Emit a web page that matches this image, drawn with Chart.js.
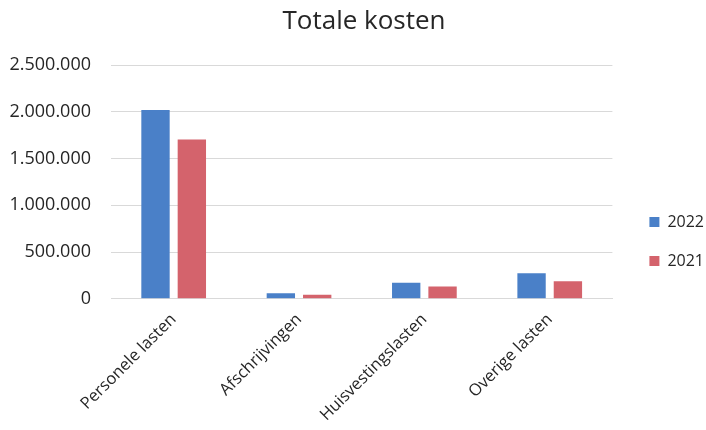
<!DOCTYPE html>
<html>
<head>
<meta charset="utf-8">
<script src="https://cdn.jsdelivr.net/npm/chart.js@4.4.1/dist/chart.umd.min.js"></script>
<style>
  html, body { margin: 0; padding: 0; background: #fff; }
  #wrap { width: 706px; height: 430px; }
</style>
</head>
<body>
<div id="wrap"><canvas id="kostenChart" width="706" height="430"></canvas></div>
<script>
// data
var categories = ['Personele lasten', 'Afschrijvingen', 'Huisvestingslasten', 'Overige lasten'];
var kosten2022 = [2020000, 58000, 172000, 272000];
var kosten2021 = [1705000, 42000, 132000, 188000];
var yTicks = [0, 500000, 1000000, 1500000, 2000000, 2500000];

function formatNl(v) {
  return String(v).replace(/\B(?=(\d{3})+(?!\d))/g, '.');
}

var fontFamily = "'Open Sans', 'Noto Sans', sans-serif";

// nudge title and legend a bit to the right, like the original
var nudgePlugin = {
  id: 'nudge',
  afterLayout: function (chart) {
    chart.legend.left += 14;
    chart.legend.right += 14;
    chart.titleBlock.left += 14;
    chart.titleBlock.right += 14;
  }
};

var config = {
  type: 'bar',
  data: {
    labels: categories,
    datasets: [{
      label: '2022',
      data: kosten2022,
      backgroundColor: '#4a80c8',
      borderWidth: 0
    }, {
      label: '2021',
      data: kosten2021,
      backgroundColor: '#d4636c',
      borderWidth: 0
    }]
  },
  options: {
    responsive: false,
    animation: false,
    categoryPercentage: 0.58,
    barPercentage: 0.78,
    layout: {
      autoPadding: false,
      padding: { left: 0, right: 6, top: 4, bottom: 2 }
    },
    plugins: {
      title: {
        display: true,
        text: 'Totale kosten',
        color: '#262626',
        font: { family: fontFamily, size: 26, weight: 'normal' },
        padding: { top: 2, bottom: 28 }
      },
      legend: {
        position: 'right',
        title: {
          display: true,
          text: '',
          font: { size: 1 },
          padding: { top: 50, bottom: 0 }
        },
        labels: {
          boxWidth: 10,
          boxHeight: 10,
          padding: 23,
          color: '#262626',
          font: { family: fontFamily, size: 16 }
        }
      },
      tooltip: { enabled: false }
    },
    scales: {
      x: {
        grid: { display: false },
        border: { color: '#d9d9d9' },
        ticks: {
          minRotation: 45,
          maxRotation: 45,
          color: '#262626',
          font: { family: fontFamily, size: 16.5 }
        }
      },
      y: {
        min: 0,
        max: 2500000,
        afterBuildTicks: function (axis) {
          axis.ticks = yTicks.map(function (v) { return { value: v }; });
        },
        afterFit: function (axis) {
          axis.width = 111;
        },
        grid: { color: '#d9d9d9', drawTicks: false },
        border: { display: false },
        ticks: {
          padding: 20,
          color: '#262626',
          font: { family: fontFamily, size: 18 },
          callback: function (v) { return formatNl(v); }
        }
      }
    }
  },
  plugins: [nudgePlugin]
};

var kostenChart = new Chart(document.getElementById('kostenChart'), config);
</script>
</body>
</html>
